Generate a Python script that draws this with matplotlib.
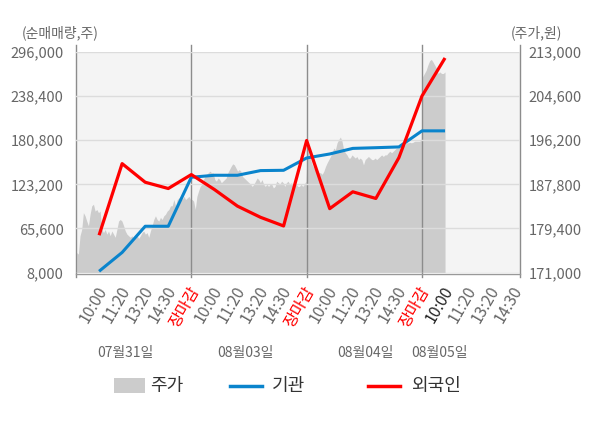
import numpy as np
import matplotlib
matplotlib.use("Agg")
import matplotlib.pyplot as plt
from matplotlib.patches import Rectangle
from matplotlib.lines import Line2D
from matplotlib.transforms import ScaledTranslation

plt.rcParams['font.family'] = ['Noto Sans CJK KR', 'DejaVu Sans']

# 시간축 라벨 (4일)
time_labels = ['10:00', '11:20', '13:20', '14:30', '장마감'] * 3 + ['10:00', '11:20', '13:20', '14:30']
day_labels = ['07월31일', '08월03일', '08월04일', '08월05일']

# 순매매량 (주)
foreign = [56700, 150200, 125900, 117700, 135900,
           116400, 94700, 80100, 68800, 180400,
           91400, 113400, 104700, 158000, 238500,
           288200]
institution = [9600, 34200, 68400, 68400, 132400,
               135000, 135000, 141100, 141500, 157600,
               162800, 170100, 171000, 172000, 193000,
               193000]

# 주가 (원) - 일별 분단위
price_d1 = [174800, 174500, 178000, 179200, 182400, 181800, 180800, 179900, 182100, 183700,
            184000, 182700, 183000, 182400, 182700, 179200, 178600, 179200, 178300, 178900,
            178000, 178900, 178300, 177700, 179200, 180800, 181100, 180800, 179900, 178900,
            178300, 178000, 177700, 178000, 177300, 177700, 178000, 177500, 178000, 178600,
            178900, 178300, 178600, 177700, 178900, 179900, 181100, 181800, 181100, 180800,
            181500, 181100, 181800, 182100, 182700, 183000, 183700, 183700, 184900, 183700,
            184900, 185200, 185500, 184900, 185500, 184900, 185200, 185500, 184900]
price_d2 = [184900, 184600, 183000, 185500, 186500, 187400, 187800, 188700, 189300, 189700,
            190000, 190300, 190000, 190000, 188700, 188400, 189000, 188700, 188100, 188400,
            188700, 189000, 190000, 190600, 191200, 191700, 191500, 190900, 190300, 190600,
            190300, 189300, 189000, 188700, 188400, 188100, 187800, 187400, 187800, 188400,
            189000, 188700, 188100, 188700, 187800, 187400, 187800, 187400, 187800, 187800,
            187100, 187400, 188400, 188100, 187800, 188400, 188100, 187400, 188100, 188400,
            187800, 188100, 187400, 188100, 187800, 187400, 187400, 187800, 187400, 187800,
            188400]
price_d3 = [195000, 193400, 192500, 191500, 190900, 190300, 190600, 190000, 190000, 189700,
            190300, 191200, 191900, 192500, 193100, 193800, 194700, 194400, 195700, 196300,
            196800, 196000, 194400, 193800, 193400, 192800, 192800, 193400, 193100, 192800,
            193100, 192500, 192800, 192500, 191500, 192500, 192800, 193100, 192800, 192500,
            192500, 192800, 192500, 192800, 193100, 193400, 193100, 193400, 193400, 193800,
            194100, 193800, 194100, 194400, 194700, 194700, 195000, 195100, 195300, 195300,
            195700, 195700, 195800, 195700, 195800, 196000, 196000, 196000, 196000, 196300]
price_d4 = [208300, 208900, 209500, 210500, 211300, 211600, 211100, 210500, 209900, 208900,
            209200, 208900, 208900, 209200]

slot_x = np.arange(1, len(time_labels) + 1)
day_edges = [0, 5, 10, 15]

fig = plt.figure(figsize=(6, 4.28), dpi=100)
ax2 = fig.add_axes([76 / 600, 1 - 272.5 / 428, 444 / 600, 220.5 / 428])
ax = ax2.twinx()
ax.set_zorder(ax2.get_zorder() + 1)
ax.patch.set_visible(False)
ax2.set_facecolor('#f4f4f4')

# 주가 영역
px, py = [], []
for i, d in enumerate([price_d1, price_d2, price_d3]):
    px.append(np.linspace(day_edges[i] + 0.03, day_edges[i] + 4.97, len(d)))
    py.append(d)
px.append(np.linspace(15.03, 16.0, len(price_d4)))
py.append(price_d4)
px = np.concatenate(px)
py = np.concatenate(py)
ax2.fill_between(px, py, 171000, color='#cccccc', lw=0)
ax2.set_ylim(171000, 213000)
ax2.set_yticks(np.arange(171000, 213001, 8400))

# 순매매량
ax.set_ylim(8000, 296000)
ax.set_yticks(np.arange(8000, 296001, 57600))
ax.grid(axis='y', color='#dcdcdc', lw=1)
ax.plot(slot_x[:len(institution)], institution, color='#0a84cc', lw=2.2, solid_capstyle='butt')
ax.plot(slot_x[:len(foreign)], foreign, color='#ff0000', lw=2.3, solid_capstyle='butt')

ax2.set_xlim(0, 19.25)

# 축 위치 교환: 순매매량은 왼쪽, 주가는 오른쪽
ax.yaxis.tick_left()
ax2.yaxis.tick_right()
for a in (ax, ax2):
    for s in a.spines.values():
        s.set_visible(False)
ax.tick_params(axis='y', length=0, pad=9, labelsize=10.5, labelcolor='#666666')
ax2.tick_params(axis='y', length=0, pad=6, labelsize=10.5, labelcolor='#666666')
ax.set_yticklabels([f'{v:,}' for v in ax.get_yticks()])
ax2.set_yticklabels([f'{v:,}' for v in ax2.get_yticks()])

# 세로 구분선
tr = ax.get_xaxis_transform()
for xe in day_edges + [19.25]:
    ax.plot([xe, xe], [-0.02, 1.03], transform=tr, color='#8c8c8c', lw=1, clip_on=False, zorder=1.5)
ax.plot([0, 19.25], [-0.008, -0.008], transform=tr, color='#999999', lw=1, clip_on=False)

# x 라벨
ax2.set_xticks(slot_x)
ax2.set_xticklabels(time_labels, rotation=60, ha='right', va='center', rotation_mode='anchor')
ax2.tick_params(axis='x', length=0, pad=11, labelsize=11.5)
off = ScaledTranslation(4 / 100, 0, fig.dpi_scale_trans)
for i, lab in enumerate(ax2.get_xticklabels()):
    lab.set_transform(lab.get_transform() + off)
    if time_labels[i] == '장마감':
        lab.set_color('#ff0000')
    elif i == len(foreign) - 1:
        lab.set_color('#222222')
    else:
        lab.set_color('#666666')

day_pos = [2.12, 7.33, 12.53, 15.78]
for xp, lab in zip(day_pos, day_labels):
    ax.text(xp, -0.365, lab, transform=tr, ha='center', va='center', fontsize=10, color='#666666')

fig.text(22 / 600, 1 - 33 / 428, '(순매매량,주)', ha='left', va='center', fontsize=10, color='#666666')
fig.text(562 / 600, 1 - 33 / 428, '(주가,원)', ha='right', va='center', fontsize=10, color='#666666')

# 범례
ly = 1 - 386 / 428
fig.add_artist(Rectangle((114 / 600, 1 - 393 / 428), 31 / 600, 15 / 428, transform=fig.transFigure,
                         facecolor='#cccccc', edgecolor='none'))
fig.text(150 / 600, ly, '주가', ha='left', va='center', fontsize=13, color='#333333')
fig.add_artist(Line2D([230 / 600, 262 / 600], [ly, ly], transform=fig.transFigure, color='#0a84cc', lw=2.5))
fig.text(272 / 600, ly, '기관', ha='left', va='center', fontsize=13, color='#333333')
fig.add_artist(Line2D([368 / 600, 400 / 600], [ly, ly], transform=fig.transFigure, color='#ff0000', lw=2.5))
fig.text(411 / 600, ly, '외국인', ha='left', va='center', fontsize=13, color='#333333')

fig.savefig('out.png', dpi=100, facecolor='white')
